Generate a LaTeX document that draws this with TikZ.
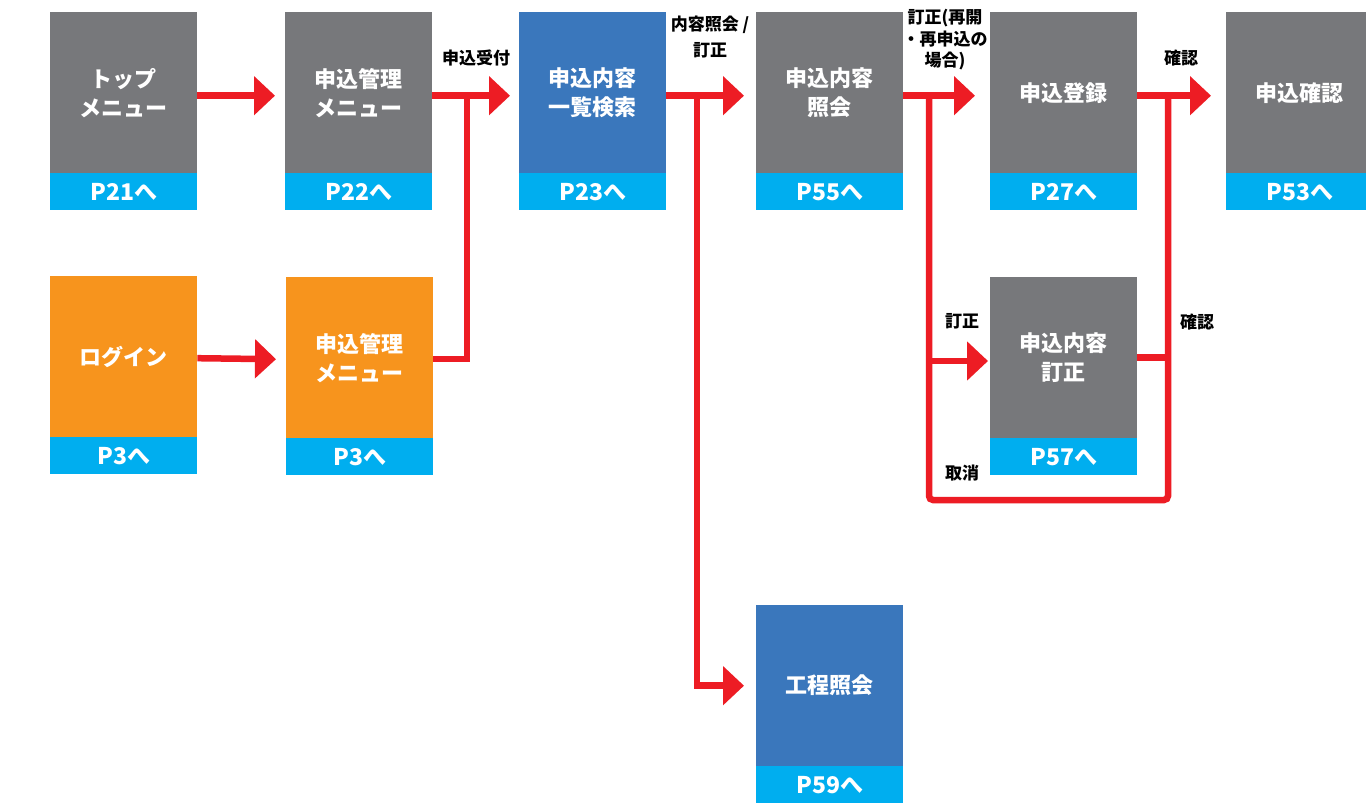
\documentclass[tikz,border=0pt]{standalone}
\usepackage{fontspec}
\setmainfont{Noto Sans CJK JP}
\usetikzlibrary{arrows.meta}
\definecolor{bgray}{HTML}{77787B}
\definecolor{bcyan}{HTML}{00AEEF}
\definecolor{bblue}{HTML}{3A77BC}
\definecolor{borange}{HTML}{F7941D}
\definecolor{lred}{HTML}{ED1C24}
\tikzset{
  boxg/.style={minimum width=147pt, minimum height=161pt, inner sep=0pt, text=white,
    font=\bfseries\fontsize{22}{29}\selectfont, align=center, anchor=north west},
  boxp/.style={fill=bcyan, minimum width=147pt, minimum height=37pt, inner sep=0pt, text=white,
    font=\bfseries\fontsize{23}{25}\selectfont, anchor=north west},
  lab/.style={inner sep=0pt, text=black, font=\bfseries\fontsize{17}{21.5}\selectfont, align=center},
  conn/.style={draw=lred, line width=6.5pt, line join=miter},
  arr/.style={conn, -{Triangle[width=38pt,length=21pt]}},
}
\newcommand{\pagebox}[6]{%
  \node[boxg, fill=#4] (#1) at (#2,#3) {#5};
  \node[boxp] (#1p) at (#2,#3+161) {#6};
}
\begin{document}
\begin{tikzpicture}[x=1pt,y=-1pt]
\useasboundingbox[fill=white] (0,0) rectangle (1366,810);
% boxes
\pagebox{tm}{50}{12}{bgray}{トップ\\メニュー}{P21へ}
\pagebox{amA}{285}{12}{bgray}{申込管理\\メニュー}{P22へ}
\pagebox{srch}{519}{12}{bblue}{申込内容\\一覧検索}{P23へ}
\pagebox{inq}{756}{12}{bgray}{申込内容\\照会}{P55へ}
\pagebox{reg}{990}{12}{bgray}{申込登録}{P27へ}
\pagebox{conf}{1226}{12}{bgray}{申込確認}{P53へ}
\pagebox{login}{50}{276}{borange}{ログイン}{P3へ}
\pagebox{amB}{286}{277}{borange}{申込管理\\メニュー}{P3へ}
\pagebox{cor}{990}{277}{bgray}{申込内容\\訂正}{P57へ}
\pagebox{kt}{756}{605}{bblue}{工程照会}{P59へ}
% junction coordinates
\coordinate (j1) at (467,95.5);
\coordinate (j2) at (697,95.5);
\coordinate (j3) at (929,95.5);
\coordinate (j4) at (1168,95.5);
\coordinate (j3b) at (929,361);
\coordinate (corin) at (988,361);
% connectors
\draw[arr] ([yshift=-3pt]tm.east) -- ([yshift=-3pt,xshift=-10pt]amA.west);
\draw[arr] ([yshift=-3pt]amA.east) -- ([yshift=-3pt,xshift=-9pt]srch.west);
\draw[conn] ([yshift=-1.5pt]amB.east) -| (j1);
\draw[arr] ([yshift=-1.5pt]login.east) -- ([yshift=-1.5pt,xshift=-10pt]amB.west);
\draw[arr] ([yshift=-3pt]srch.east) -- ([yshift=-3pt,xshift=-12pt]inq.west);
\draw[arr] (j2) |- ([xshift=-12pt]kt.west);
\draw[arr] ([yshift=-3pt]inq.east) -- ([yshift=-3pt,xshift=-15pt]reg.west);
\draw[conn, rounded corners=4pt] (j3) -- (929,500) -- (1168,500) -- (j4);
\draw[arr] (j3b) -- (corin);
\draw[conn] (cor.east) -- (cor.east -| j4);
\draw[arr] ([yshift=-3pt]reg.east) -- ([yshift=-3pt,xshift=-15pt]conf.west);
% labels
\node[lab] (l1) at (476,58) {申込受付};
\node[lab, font=\bfseries\fontsize{17}{26}\selectfont] (l2) at (710,37) {内容照会 /\\訂正};
\node[lab] (l3) at (945,40) {訂正(再開\\・再申込の\\場合)};
\node[lab] (l4) at (1181,58) {確認};
\node[lab] (l5) at (962,321) {訂正};
\node[lab] (l6) at (962,473) {取消};
\node[lab] (l7) at (1197,322) {確認};
\end{tikzpicture}
\end{document}
